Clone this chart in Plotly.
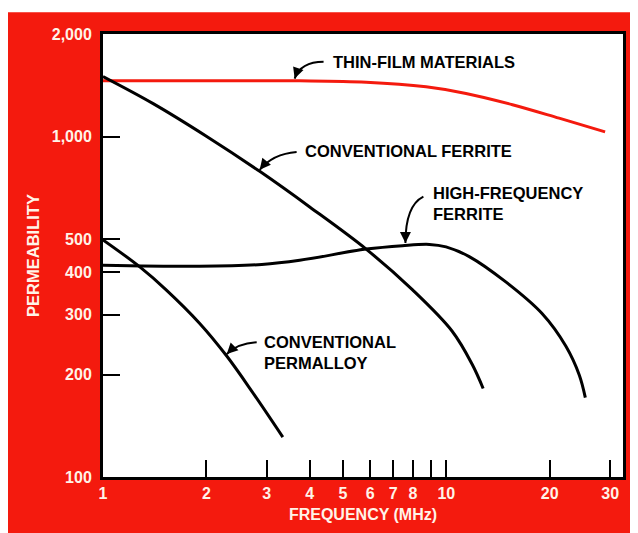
import plotly.graph_objects as go
import math

# ---------------- data ----------------
thin_film_x = [1, 2, 3.74, 5.84, 8.73, 11.41, 15.58, 21.3, 29.0]
thin_film_y = [1457, 1457, 1457, 1444, 1399, 1338, 1240, 1132, 1032]

conv_ferrite_x = [1, 1.4, 2, 2.86, 4, 5.84, 7.96, 10.4, 11.9, 12.8]
conv_ferrite_y = [1500, 1249, 1002, 790, 621, 467, 355, 268, 214, 182]

hf_ferrite_x = [1, 1.91, 2.9, 3.74, 5.84, 7.45, 8.93, 9.98, 11.66, 14.9, 19.0, 22.3, 24.4, 25.4]
hf_ferrite_y = [419, 416, 421, 433, 467, 478, 482, 474, 444, 374, 302, 242, 199, 171]

permalloy_x = [1, 1.28, 1.53, 1.91, 2.29, 2.73, 3.34]
permalloy_y = [497, 414, 354, 283, 227, 177, 131]

x_tickvals = [1, 2, 3, 4, 5, 6, 7, 8, 9, 10, 20, 30]
x_ticktext = ["1", "2", "3", "4", "5", "6", "7", "8", "", "10", "20", "30"]
y_tickvals = [100, 200, 300, 400, 500, 1000, 2000]
y_ticktext = ["100", "200", "300", "400", "500", "1,000", "2,000"]

# ---------------- layout geometry (window pixels) ----------------
WIN_W, WIN_H = 638, 533
OFF = 8  # page body margin
L, R, T, B = 103, 624, 34, 481
RED = "#F41A0E"
CREAM = "#FFF3E8"
FONT = "Liberation Sans, Arial, sans-serif"


def px(x):
    return (x - L) / (R - L)


def py(y):
    return (B - y) / (B - T)


fig = go.Figure()
for xs, ys, col in [
    (thin_film_x, thin_film_y, RED),
    (conv_ferrite_x, conv_ferrite_y, "black"),
    (hf_ferrite_x, hf_ferrite_y, "black"),
    (permalloy_x, permalloy_y, "black"),
]:
    fig.add_trace(go.Scatter(x=xs, y=ys, mode="lines",
                             line=dict(color=col, width=3, shape="spline", smoothing=1.0),
                             showlegend=False, hoverinfo="skip"))

shapes = [
    dict(type="rect", xref="paper", yref="paper", x0=px(0), x1=px(700), y0=py(12), y1=py(600),
         fillcolor=RED, line=dict(width=0), layer="below"),
    dict(type="rect", xref="paper", yref="paper", x0=0, x1=1, y0=0, y1=1,
         fillcolor="white", line=dict(width=0), layer="below"),
]

annotations = []
labels = [
    ("THIN-FILM MATERIALS", 331, 62),
    ("CONVENTIONAL FERRITE", 303, 152),
    ("HIGH-FREQUENCY<br>FERRITE", 432, 205),
    ("CONVENTIONAL<br>PERMALLOY", 262, 355),
]
for txt, x, y in labels:
    annotations.append(dict(text=txt, xref="paper", yref="paper", x=px(x), y=py(y),
                            xanchor="left", yanchor="middle", align="left", showarrow=False,
                            font=dict(family=FONT, size=16.5, color="black", weight="bold")))

arrows = [
    ((324, 62), (301, 62), (295, 79)),
    ((297, 153), (273, 155), (260, 171)),
    ((424, 198), (406, 207), (406, 245)),
    ((257, 345), (238, 346), (227, 357)),
]
for (sx, sy), (cx, cy), (tx, ty) in arrows:
    shapes.append(dict(type="path", xref="paper", yref="paper",
                       path=f"M {px(sx)},{py(sy)} Q {px(cx)},{py(cy)} {px(tx)},{py(ty)}",
                       line=dict(color="black", width=2)))
    dx, dy = cx - tx, cy - ty
    n = math.hypot(dx, dy)
    annotations.append(dict(text="", xref="paper", yref="paper", x=px(tx), y=py(ty),
                            ax=dx / n * 9, ay=dy / n * 9, showarrow=True,
                            arrowhead=2, arrowsize=1.1, arrowwidth=2, arrowcolor="black"))

tickfont = dict(family=FONT, size=16, color=CREAM, weight="bold")
common = dict(ticks="inside", ticklen=17, tickwidth=2, tickcolor="black",
              showline=True, mirror=True, linewidth=3, linecolor="black",
              showgrid=False, zeroline=False, tickfont=tickfont)

fig.update_layout(
    width=WIN_W - OFF, height=WIN_H - OFF,
    margin=dict(l=L - OFF, r=WIN_W - R, t=T - OFF, b=WIN_H - B, pad=0),
    paper_bgcolor="white", plot_bgcolor="white",
    shapes=shapes, annotations=annotations,
    xaxis=dict(type="log", range=[0, math.log10(32.7)],
               tickvals=x_tickvals, ticktext=x_ticktext,
               title=dict(text="FREQUENCY (MHz)", standoff=8,
                          font=dict(family=FONT, size=16, color=CREAM, weight="bold")),
               **common),
    yaxis=dict(type="log", range=[2, math.log10(2000)],
               tickvals=y_tickvals, ticktext=y_ticktext, ticklabelstandoff=5,
               title=dict(text="PERMEABILITY", standoff=8,
                          font=dict(family=FONT, size=16.5, color=CREAM, weight="bold")),
               **common),
)

fig.write_html("out.html")
